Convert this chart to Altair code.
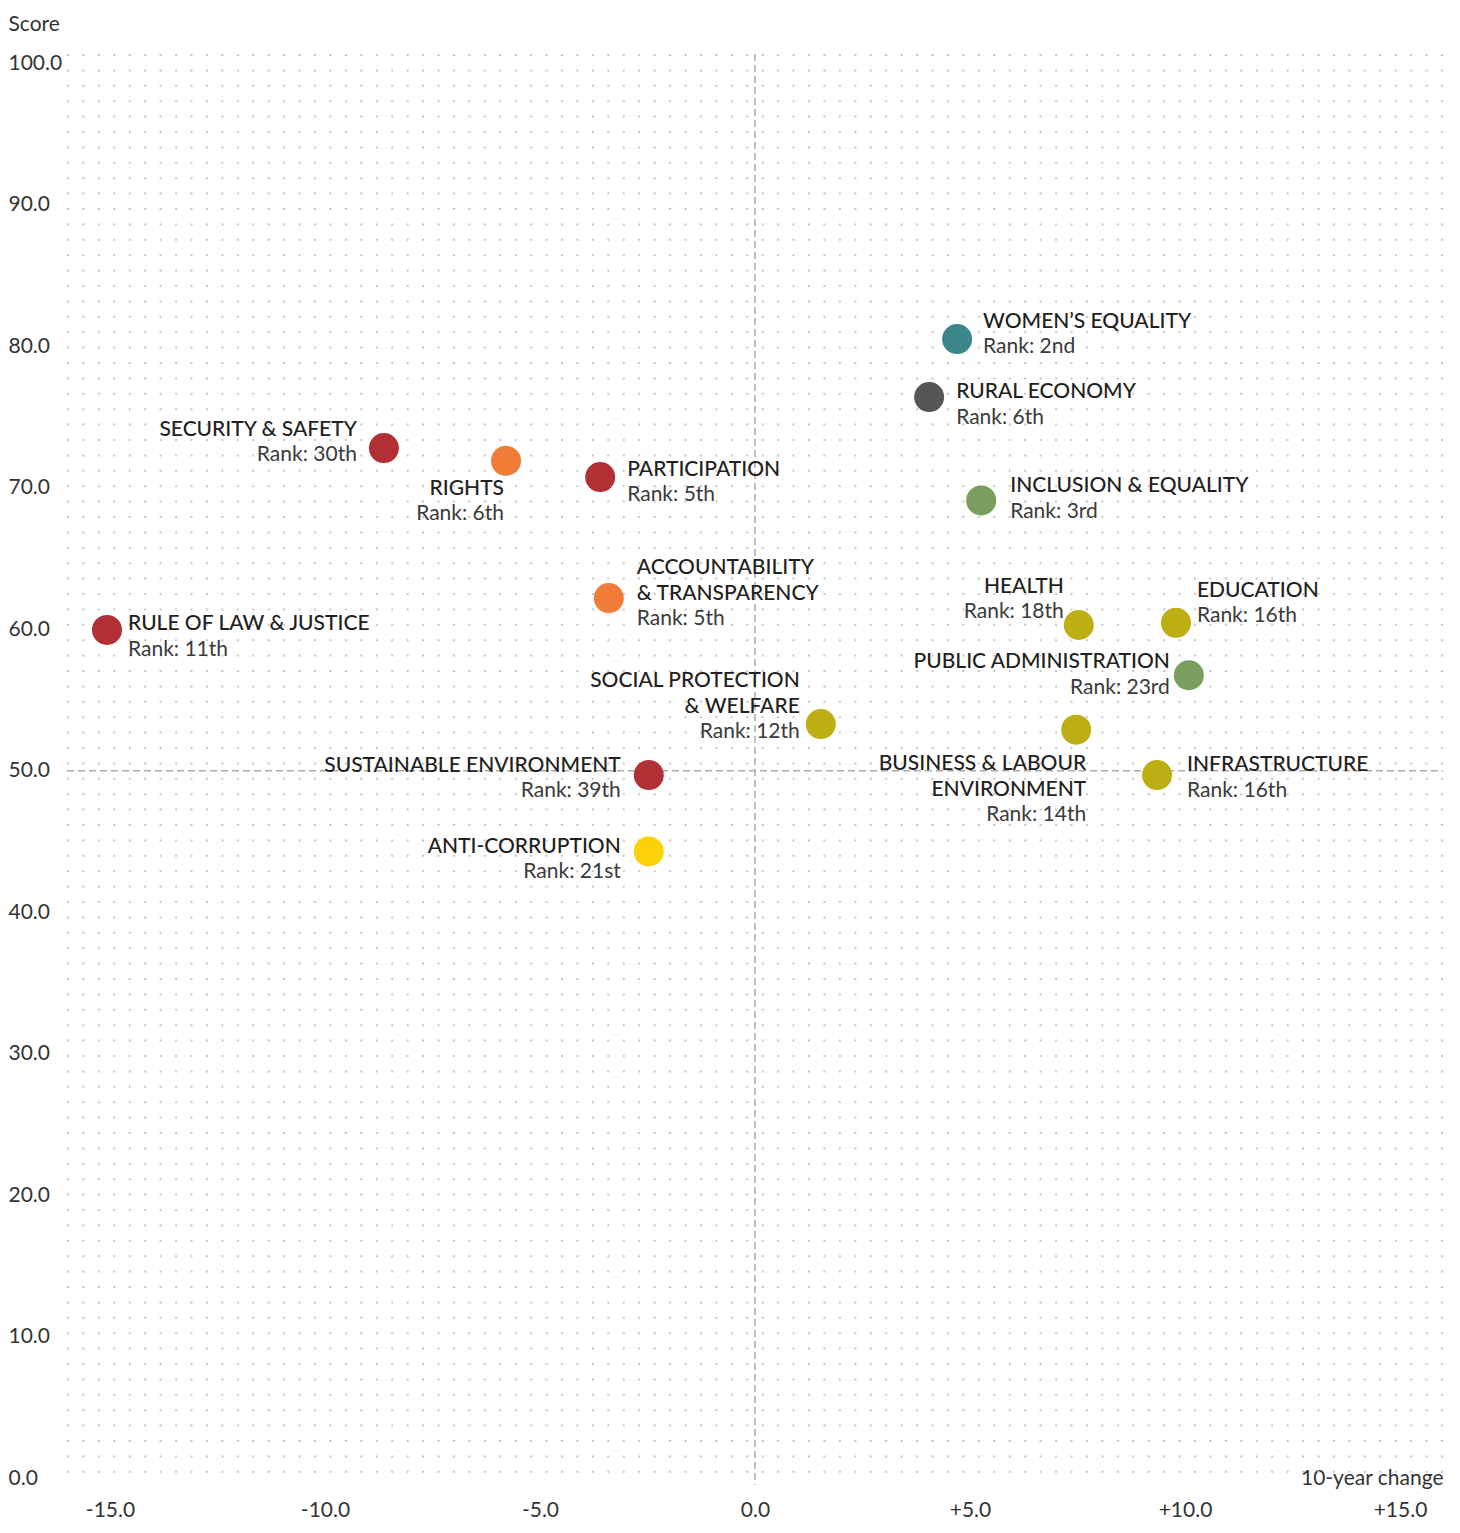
import altair as alt
import pandas as pd
import numpy as np

FONT = "Lato"

# ---- data ----
names = ["WOMEN’S EQUALITY", "RURAL ECONOMY", "SECURITY & SAFETY", "RIGHTS",
         "PARTICIPATION", "INCLUSION & EQUALITY", "ACCOUNTABILITY & TRANSPARENCY",
         "RULE OF LAW & JUSTICE", "HEALTH", "EDUCATION", "PUBLIC ADMINISTRATION",
         "SOCIAL PROTECTION & WELFARE", "BUSINESS & LABOUR ENVIRONMENT",
         "INFRASTRUCTURE", "SUSTAINABLE ENVIRONMENT", "ANTI-CORRUPTION"]
name_lines = [["WOMEN’S EQUALITY"], ["RURAL ECONOMY"], ["SECURITY & SAFETY"], ["RIGHTS"],
              ["PARTICIPATION"], ["INCLUSION & EQUALITY"], ["ACCOUNTABILITY", "& TRANSPARENCY"],
              ["RULE OF LAW & JUSTICE"], ["HEALTH"], ["EDUCATION"], ["PUBLIC ADMINISTRATION"],
              ["SOCIAL PROTECTION", "& WELFARE"], ["BUSINESS & LABOUR", "ENVIRONMENT"],
              ["INFRASTRUCTURE"], ["SUSTAINABLE ENVIRONMENT"], ["ANTI-CORRUPTION"]]
change = [4.70, 4.05, -8.63, -5.79, -3.60, 5.26, -3.40, -15.07, 7.53, 9.79, 10.09,
          1.53, 7.47, 9.35, -2.47, -2.47]
score = [80.5, 76.4, 72.8, 71.9, 70.75, 69.1, 62.2, 59.95, 60.3, 60.45, 56.75,
         53.3, 52.9, 49.7, 49.7, 44.3]
ranks = ["2nd", "6th", "30th", "6th", "5th", "3rd", "5th", "11th", "18th", "16th",
         "23rd", "12th", "14th", "16th", "39th", "21st"]
colours = ["#3a8689", "#565659", "#b03036", "#f07c38", "#b03036", "#7a9e5e", "#f07c38",
           "#b03036", "#bfae13", "#bfae13", "#7a9e5e", "#bfae13", "#bfae13", "#bfae13",
           "#b03036", "#fcd20a"]

x_ticks = [-15, -10, -5, 0, 5, 10, 15]
y_ticks = [0, 10, 20, 30, 40, 50, 60, 70, 80, 90, 100]

# ---- label layout (align, x offset px, y offset px per line incl. rank line) ----
placement = [
    ("left", 26, [-19, 6]),
    ("left", 27, [-7, 19]),
    ("right", -27, [-20, 5]),
    ("right", -2, [26, 51]),
    ("left", 27, [-9, 16]),
    ("left", 29, [-16, 10]),
    ("left", 28, [-32, -6, 19]),
    ("left", 21, [-8, 18]),
    ("right", -15, [-40, -15]),
    ("left", 21, [-34, -9]),
    ("right", -19, [-15, 11]),
    ("right", -21, [-45, -19, 6]),
    ("right", 10, [32, 58, 83]),
    ("left", 30, [-12, 14]),
    ("right", -28, [-11, 14]),
    ("right", -28, [-6, 19]),
]
TEXT_SHIFT = 2  # baseline correction in px

W, H = 1376, 1431
X_DOMAIN = [-16, 16]
Y_DOMAIN = [-0.46, 100.64]
PX_X = W / (X_DOMAIN[1] - X_DOMAIN[0])
PX_Y = H / (Y_DOMAIN[1] - Y_DOMAIN[0])

pts = pd.DataFrame({"name": names, "change": change, "score": score, "rank": ranks})

rows = []
for i, nm in enumerate(names):
    align, dx, dys = placement[i]
    lines = name_lines[i] + ["Rank: " + ranks[i]]
    for j, ln in enumerate(lines):
        rows.append({"name": nm,
                     "tx": change[i] + dx / PX_X,
                     "ty": score[i] - (dys[j] + TEXT_SHIFT) / PX_Y,
                     "line": ln, "side": align,
                     "kind": "rank" if j == len(lines) - 1 else "name"})
labels = pd.DataFrame(rows)

xs = alt.Scale(domain=X_DOMAIN, nice=False, zero=False)
ys = alt.Scale(domain=Y_DOMAIN, nice=False, zero=False)

x_axis = alt.Axis(values=x_ticks, grid=False, ticks=False, tickSize=0, domain=False,
                  labelExpr="datum.value > 0 ? '+' + format(datum.value, '.1f') : (datum.value < 0 ? '-' + format(-datum.value, '.1f') : '0.0')",
                  labelFont=FONT, labelFontSize=21, labelFontWeight=400, labelColor="#333333",
                  labelPadding=25, labelBaseline="middle",
                  title="10-year change", titleFont=FONT, titleFontSize=21,
                  titleFontWeight=400, titleColor="#333333", titleX=W, titleY=-7,
                  titleAlign="right", titleBaseline="middle", titleAngle=0)
y_axis = alt.Axis(values=y_ticks, grid=False, ticks=False, tickSize=0, domain=False,
                  labelExpr="format(datum.value, '.1f')",
                  labelFont=FONT, labelFontSize=21, labelFontWeight=400, labelColor="#333333",
                  labelAlign="left", labelPadding=59, labelBaseline="middle",
                  title="Score", titleFont=FONT, titleFontSize=21, titleFontWeight=400,
                  titleColor="#333333", titleAngle=0, titleAlign="left",
                  titleBaseline="alphabetic", titleX=-59, titleY=-24)

# dotted background grid (decorative)
grid_x = pd.DataFrame({"gx": np.linspace(-15.977, 15.977, 90)})
grid = alt.Chart(grid_x).mark_rule(color="#c6c6c6", strokeWidth=2,
                                   strokeDash=[2, 13.4]).encode(
    x=alt.X("gx:Q", scale=xs, axis=x_axis),
    y=alt.value(0), y2=alt.value(H))

ref_df = pd.DataFrame({"vx": [0], "hy": [50]})
vline = alt.Chart(ref_df).mark_rule(color="#aaaaaa", strokeWidth=1.5,
                                    strokeDash=[7, 4]).encode(
    x=alt.X("vx:Q", scale=xs, axis=x_axis), y=alt.value(0), y2=alt.value(H))
hline = alt.Chart(ref_df).mark_rule(color="#aaaaaa", strokeWidth=1.5,
                                    strokeDash=[7, 4]).encode(
    y=alt.Y("hy:Q", scale=ys, axis=y_axis), x=alt.value(0), x2=alt.value(W))

points = alt.Chart(pts).mark_circle(size=900, opacity=1).encode(
    x=alt.X("change:Q", scale=xs, axis=x_axis),
    y=alt.Y("score:Q", scale=ys, axis=y_axis),
    color=alt.Color("name:N", scale=alt.Scale(domain=names, range=colours), legend=None))


def text_layer(kind, side, weight, colour):
    d = labels[(labels.kind == kind) & (labels.side == side)]
    return alt.Chart(d).mark_text(align=side, baseline="middle", font=FONT,
                                  fontSize=21, fontWeight=weight, color=colour).encode(
        x=alt.X("tx:Q", scale=xs, axis=x_axis),
        y=alt.Y("ty:Q", scale=ys, axis=y_axis),
        text="line:N")


chart = alt.layer(
    grid, vline, hline, points,
    text_layer("name", "left", 500, "#231f20"),
    text_layer("name", "right", 500, "#231f20"),
    text_layer("rank", "left", 400, "#3a3a3a"),
    text_layer("rank", "right", 400, "#3a3a3a"),
).properties(
    width=W, height=H,
    autosize=alt.AutoSizeParams(type="none"),
    padding={"left": 59, "top": 46, "right": 5, "bottom": 34},
    background="white",
).configure_view(strokeWidth=0)

chart.save("out.html", embed_options={"renderer": "svg", "actions": False})
